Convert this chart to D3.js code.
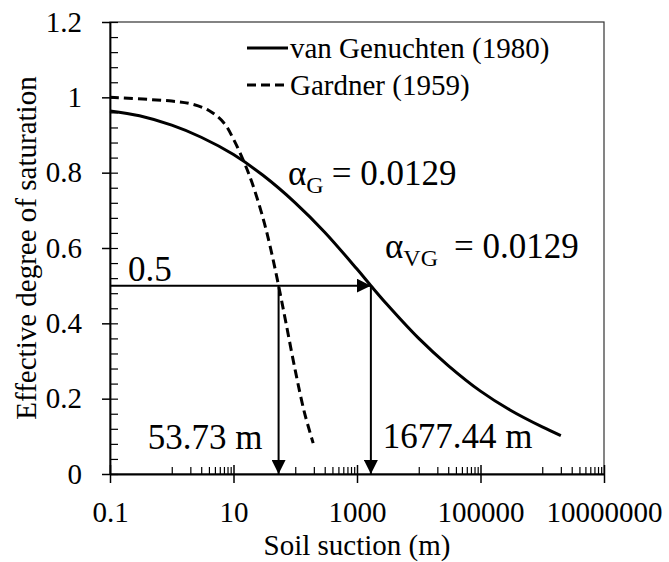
<!DOCTYPE html>
<html>
<head>
<meta charset="utf-8">
<script src="https://cdn.jsdelivr.net/npm/d3@7"></script>
<style>
  svg text, svg tspan { font-family: "Liberation Serif", "Times New Roman", Tinos, serif !important; }
</style>
</head>
<body style="margin:0">
<svg id="chart" width="669" height="562" font-family="Liberation Serif"></svg>
<script>
// Soil suction (m) and effective degree of saturation for each model
const vgSuction = [0.1, 0.3, 1, 3, 10, 30, 100, 300, 1000, 1677.44, 3000, 10000, 30000, 100000, 300000, 1000000, 2000000];
const vgSe      = [0.964, 0.951, 0.926, 0.894, 0.848, 0.793, 0.720, 0.642, 0.544, 0.500, 0.452, 0.360, 0.288, 0.220, 0.170, 0.125, 0.102];

const gSuction = [0.1, 1, 2, 4, 7, 10, 15, 20, 30, 40, 53.73, 70, 100, 140, 195];
const gSe      = [1.0, 0.990, 0.983, 0.965, 0.932, 0.889, 0.826, 0.773, 0.680, 0.598, 0.500, 0.405, 0.275, 0.165, 0.082];

const seriesNames = ["van Genuchten (1980)", "Gardner (1959)"];

// Axis ticks
const xTicks = [0.1, 10, 1000, 100000, 10000000];
const xTickLabels = ["0.1", "10", "1000", "100000", "10000000"];
const yTicks = [0, 0.2, 0.4, 0.6, 0.8, 1.0, 1.2];
const yTickLabels = ["0", "0.2", "0.4", "0.6", "0.8", "1", "1.2"];

// Reference values marked with arrows
const seTarget = 0.5;
const gSuctionAtHalf = 53.73;
const vgSuctionAtHalf = 1677.44;
const alphaG = "0.0129";
const alphaVG = "0.0129";

const FONT = "Liberation Serif";

const svg = d3.select("#chart");
const W = 669, H = 562;
const m = { left: 110, top: 22, right: 65, bottom: 88 };
const x0 = m.left, x1 = W - m.right, y0 = H - m.bottom, y1 = m.top;

const x = d3.scaleLog().domain([0.1, 1e7]).range([x0, x1]);
const y = d3.scaleLinear().domain([0, 1.2]).range([y0, y1]);

const tickFont = 29;

// plot frame
svg.append("rect")
  .attr("x", x0).attr("y", y1).attr("width", x1 - x0).attr("height", y0 - y1)
  .attr("fill", "none").attr("stroke", "#333").attr("stroke-width", 1.2);

// minor ticks on the x axis (drawn inward)
const xMinor = [];
[0.1, 10, 1000, 100000].forEach(b => { for (let k = 1; k <= 9; k++) xMinor.push(b * 10 * k); });
svg.append("g").attr("transform", `translate(0,${y0})`)
  .call(d3.axisBottom(x).tickValues(xMinor).tickSize(-7).tickFormat(""))
  .call(g => g.select(".domain").remove())
  .call(g => g.selectAll("text").remove())
  .call(g => g.selectAll("line").attr("stroke", "#000").attr("stroke-width", 1.2));
// major ticks crossing the axis
svg.append("g").attr("transform", `translate(0,${y0})`)
  .call(d3.axisBottom(x).tickValues(xTicks).tickSize(-9).tickFormat(""))
  .call(g => g.select(".domain").remove())
  .call(g => g.selectAll("text").remove())
  .call(g => g.selectAll("line").attr("stroke", "#000").attr("stroke-width", 1.5));

const xAxis = svg.append("g").attr("transform", `translate(0,${y0})`)
  .call(d3.axisBottom(x).tickValues(xTicks).tickSize(9).tickSizeOuter(0).tickPadding(18)
    .tickFormat((d, i) => xTickLabels[i]));
xAxis.select(".domain").attr("stroke", "#000").attr("stroke-width", 1.8);
xAxis.selectAll("line").attr("stroke", "#000").attr("stroke-width", 1.5);
xAxis.selectAll("text").attr("fill", "#000").attr("font-size", tickFont);

// minor ticks on the y axis (drawn inward)
const yMinor = d3.range(0, 31).map(i => +(i * 0.04).toFixed(2));
svg.append("g").attr("transform", `translate(${x0},0)`)
  .call(d3.axisLeft(y).tickValues(yMinor).tickSize(-8).tickFormat(""))
  .call(g => g.select(".domain").remove())
  .call(g => g.selectAll("text").remove())
  .call(g => g.selectAll("line").attr("stroke", "#000").attr("stroke-width", 1.2));

const yAxis = svg.append("g").attr("transform", `translate(${x0},0)`)
  .call(d3.axisLeft(y).tickValues(yTicks).tickSize(8).tickSizeOuter(0).tickPadding(20)
    .tickFormat((d, i) => yTickLabels[i]));
yAxis.select(".domain").attr("stroke", "#000").attr("stroke-width", 1.8);
yAxis.selectAll("line").attr("stroke", "#000").attr("stroke-width", 1.5);
yAxis.selectAll("text").attr("fill", "#000").attr("font-size", tickFont);

// axis titles
svg.append("text")
  .attr("x", (x0 + x1) / 2).attr("y", 555)
  .attr("text-anchor", "middle").attr("font-size", 29)
  .text("Soil suction (m)");
svg.append("text")
  .attr("transform", `translate(36,${(y0 + y1) / 2}) rotate(-90)`)
  .attr("text-anchor", "middle").attr("font-size", 29)
  .text("Effective degree of saturation");

// curves
const line = d3.line().x(d => x(d[0])).y(d => y(d[1])).curve(d3.curveCatmullRom.alpha(0.5));
svg.append("path")
  .datum(vgSuction.map((h, i) => [h, vgSe[i]]))
  .attr("d", line).attr("fill", "none").attr("stroke", "#000").attr("stroke-width", 3);
svg.append("path")
  .datum(gSuction.map((h, i) => [h, gSe[i]]))
  .attr("d", line).attr("fill", "none").attr("stroke", "#000").attr("stroke-width", 3)
  .attr("stroke-dasharray", "9,5");

// arrows at Se = 0.5
const defs = svg.append("defs");
defs.append("marker")
  .attr("id", "head").attr("viewBox", "0 0 14 14")
  .attr("refX", 14).attr("refY", 7)
  .attr("markerWidth", 14).attr("markerHeight", 14)
  .attr("markerUnits", "userSpaceOnUse").attr("orient", "auto")
  .append("path").attr("d", "M0,0 L14,7 L0,14 Z").attr("fill", "#000");

const arrows = [
  [x(0.1), y(seTarget), x(vgSuctionAtHalf), y(seTarget)],
  [x(gSuctionAtHalf), y(seTarget), x(gSuctionAtHalf), y(0)],
  [x(vgSuctionAtHalf), y(seTarget), x(vgSuctionAtHalf), y(0)]
];
svg.selectAll(".arrow").data(arrows).enter().append("line")
  .attr("class", "arrow")
  .attr("x1", d => d[0]).attr("y1", d => d[1])
  .attr("x2", d => d[2]).attr("y2", d => d[3])
  .attr("stroke", "#000").attr("stroke-width", 2)
  .attr("marker-end", "url(#head)");

// annotation labels
const annFont = 35;
function label(px, py, txt, anchor) {
  return svg.append("text").attr("x", px).attr("y", py)
    .attr("font-size", annFont)
    .attr("text-anchor", anchor || "start").text(txt);
}
label(128, 281, String(seTarget));
label(x(gSuctionAtHalf) - 16, 449, gSuctionAtHalf.toFixed(2) + " m", "end");
label(x(vgSuctionAtHalf) + 12, 448, vgSuctionAtHalf.toFixed(2) + " m");

function alphaLabel(px, py, sub, val, gap) {
  const t = svg.append("text").attr("x", px).attr("y", py).attr("font-size", annFont);
  t.append("tspan").text("α");
  t.append("tspan").attr("font-size", 24).attr("dy", 8).text(sub);
  t.append("tspan").attr("dy", -8).attr("dx", gap).text("= " + val);
}
alphaLabel(288, 185, "G", alphaG, 8);
alphaLabel(385, 258, "VG", alphaVG, 16);

// legend
const legend = svg.append("g");
seriesNames.forEach((name, i) => {
  const ly = 48 + i * 37;
  legend.append("line")
    .attr("x1", 247).attr("x2", 288).attr("y1", ly).attr("y2", ly)
    .attr("stroke", "#000").attr("stroke-width", 3)
    .attr("stroke-dasharray", i === 1 ? "9,5" : null);
  legend.append("text").attr("x", 290).attr("y", ly + 10)
    .attr("font-size", 29).text(name);
});

// one serif face for every label; drop the axis default font
svg.selectAll("g").attr("font-family", null);
svg.selectAll("text").attr("font-family", FONT);
</script>
</body>
</html>
